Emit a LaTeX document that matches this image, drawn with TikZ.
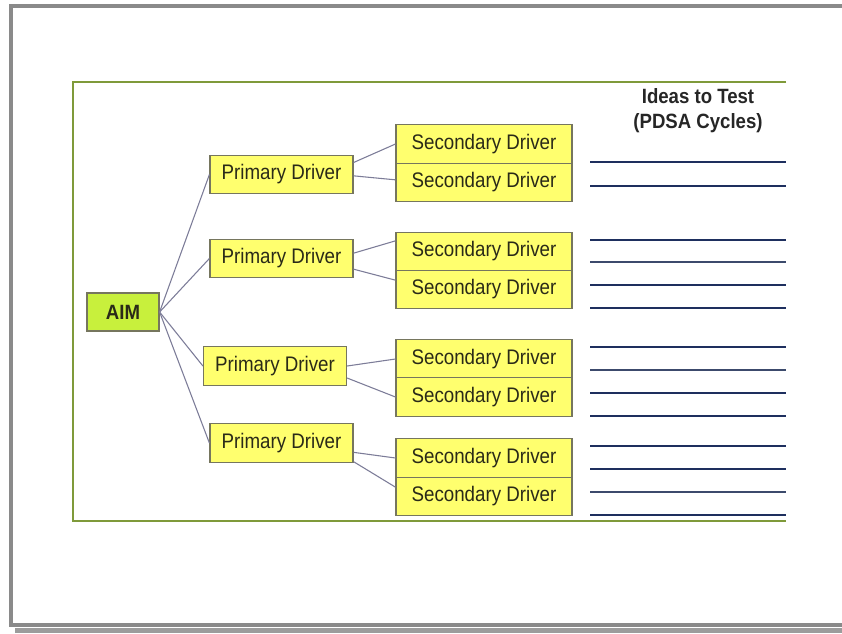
\documentclass[tikz,border=0pt]{standalone}
\usepackage{fontspec}
\setmainfont{Liberation Sans}
\newfontfamily\drvfont[FakeStretch=0.89]{Liberation Sans}
\newfontfamily\hdfont[FakeStretch=0.9]{Liberation Sans}
\definecolor{framegray}{HTML}{8A8A8A}
\definecolor{shadowgray}{HTML}{9C9C9C}
\definecolor{panelgreen}{HTML}{7F9A3A}
\definecolor{boxyellow}{HTML}{FFFF6E}
\definecolor{boxedge}{HTML}{76765E}
\definecolor{aimlime}{HTML}{C8F03C}
\definecolor{linkgray}{HTML}{7C7C98}
\definecolor{ideanavy}{HTML}{1E2F5E}
\definecolor{ideathin}{HTML}{3C4A6C}
\definecolor{txt}{HTML}{2A2A18}
\tikzset{
  aimbox/.style={draw=boxedge, line width=0.9pt, fill=aimlime, inner sep=0pt,
    minimum width=54pt, minimum height=28.5pt,
    font=\hdfont\bfseries\fontsize{15.5}{18}\selectfont, text=txt},
  primbox/.style={draw=boxedge, line width=0.9pt, fill=boxyellow, inner sep=0pt,
    minimum width=107.25pt, minimum height=29pt,
    font=\drvfont\fontsize{15.8}{18}\selectfont, text=txt},
  secbox/.style={draw=boxedge, line width=0.8pt, fill=boxyellow, inner sep=0pt,
    minimum width=132pt, minimum height=28.9pt,
    font=\drvfont\fontsize{15.8}{18}\selectfont, text=txt},
  link/.style={draw=linkgray, line width=0.8pt},
  idea/.style={draw=ideanavy, line width=2.2pt},
  ideathinline/.style={draw=ideathin, line width=1.1pt},
  heading/.style={font=\hdfont\bfseries\fontsize{15.5}{18.75}\selectfont,
    text=black!85, align=center, inner sep=0pt}
}
\begin{document}
\begin{tikzpicture}[x=0.75pt,y=-0.75pt]
\useasboundingbox (0,0) rectangle (842,633);
\fill[white] (0,0) rectangle (842,633);

% page frame with drop shadow
\fill[shadowgray] (15,627.5) rectangle (842,633);
\fill[framegray] (9,4) rectangle (842,8);
\fill[framegray] (9,4) rectangle (13,627);
\fill[framegray] (9,623) rectangle (842,627);

% green panel, open on the right
\draw[panelgreen, line width=1.6pt] (786,82) -- (73,82) -- (73,521) -- (786,521);

% heading
\node[heading] (head) at (698,111) {Ideas to Test\\(PDSA Cycles)};

% aim and primary drivers
\node[aimbox] (aim) at (123,312) {AIM};
\node[primbox] (p1) at (281.5,174.5) {Primary Driver};
\node[primbox] (p2) at (281.5,258.5) {Primary Driver};
\node[primbox] (p3) at (275,366) {Primary Driver};
\node[primbox] (p4) at (281.5,443) {Primary Driver};

% secondary drivers
\node[secbox] (s1a) at (484,144) {Secondary Driver};
\node[secbox] (s1b) at (484,182.5) {Secondary Driver};
\node[secbox] (s2a) at (484,251.5) {Secondary Driver};
\node[secbox] (s2b) at (484,289.5) {Secondary Driver};
\node[secbox] (s3a) at (484,359) {Secondary Driver};
\node[secbox] (s3b) at (484,397) {Secondary Driver};
\node[secbox] (s4a) at (484,458) {Secondary Driver};
\node[secbox] (s4b) at (484,496.5) {Secondary Driver};

% aim to primary drivers
\draw[link] (aim.east) -- (p1.west);
\draw[link] (aim.east) -- (p2.west);
\draw[link] (aim.east) -- (p3.west);
\draw[link] (aim.east) -- (p4.west);

% primary to secondary drivers
\draw[link] ([yshift=9pt]p1.east) -- (s1a.west);
\draw[link] ([yshift=-1pt]p1.east) -- ([yshift=2pt]s1b.west);
\draw[link] ([yshift=4pt]p2.east) -- ([yshift=8pt]s2a.west);
\draw[link] ([yshift=-8pt]p2.east) -- ([yshift=7pt]s2b.west);
\draw[link] (p3.east) -- (s3a.west);
\draw[link] ([yshift=-9pt]p3.east) -- (s3b.west);
\draw[link] ([yshift=-7pt]p4.east) -- ([yshift=0pt]s4a.west);
\draw[link] ([yshift=-14pt]p4.east) -- ([yshift=7pt]s4b.west);

% lines for change ideas
\coordinate (il) at (590,0);
\coordinate (ir) at (786,0);
\foreach \yy in {162,186,240,285,308,347,393,416,446,469,515}
  \draw[idea] (il |- 0,\yy) -- (ir |- 0,\yy);
\foreach \yy in {262,370,492}
  \draw[ideathinline] (il |- 0,\yy) -- (ir |- 0,\yy);
\end{tikzpicture}
\end{document}
